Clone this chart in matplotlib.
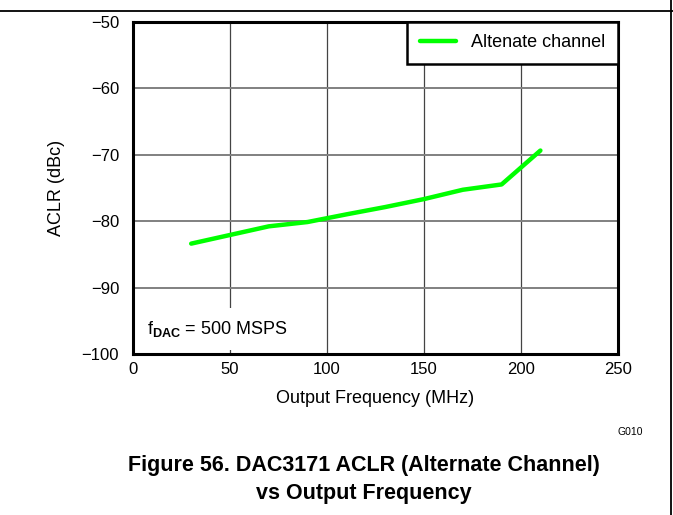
import matplotlib
matplotlib.use('Agg')
import matplotlib.pyplot as plt
from matplotlib.lines import Line2D

plt.rcParams['font.family'] = ['Liberation Sans', 'DejaVu Sans']
plt.rcParams['mathtext.fontset'] = 'custom'
plt.rcParams['mathtext.rm'] = 'Liberation Sans'
plt.rcParams['mathtext.bf'] = 'Liberation Sans:bold'

# Daten
freq = [30, 50, 70, 90, 110, 130, 150, 170, 190, 210]
aclr = [-83.4, -82.1, -80.8, -80.15, -79.0, -77.9, -76.7, -75.3, -74.5, -69.4]
xticks = [0, 50, 100, 150, 200, 250]
yticks = [-100, -90, -80, -70, -60, -50]

fig = plt.figure(figsize=(6.73, 5.15), dpi=100)
ax = fig.add_axes([0.1976, 0.3126, 0.7207, 0.6456])

ax.plot(freq, aclr, color='#00ff00', lw=3.2, solid_capstyle='round',
        label='Altenate channel', zorder=3)

ax.set_xlim(0, 250)
ax.set_ylim(-100, -50)
ax.set_xticks(xticks)
ax.set_yticks(yticks)
ax.tick_params(length=0, labelsize=12)
ax.tick_params(axis='y', pad=10)
ax.tick_params(axis='x', pad=6)
ax.grid(axis='x', color='#444444', lw=0.9)
ax.grid(axis='y', color='#808080', lw=1.4)
for s in ax.spines.values():
    s.set_linewidth(2.2)
    s.set_zorder(5)

ax.set_xlabel('Output Frequency (MHz)', fontsize=13, labelpad=9)
ax.set_ylabel('ACLR (dBc)', fontsize=13, labelpad=12)

leg = ax.legend(loc='upper right', fontsize=13, fancybox=False, framealpha=1,
                borderaxespad=0, handlelength=2.0, handletextpad=0.85,
                borderpad=0.7)
leg.get_frame().set_edgecolor('black')
leg.get_frame().set_linewidth(1.8)

ax.text(7, -96.2, r'f$_{\mathbf{DAC}}$ = 500 MSPS', fontsize=13, va='center',
        bbox=dict(facecolor='white', edgecolor='none', pad=8), zorder=4)

fig.text(630 / 673, 1 - 432 / 515, 'G010', fontsize=7.5, ha='center', va='center')
fig.text(364 / 673, 1 - 466 / 515, 'Figure 56. DAC3171 ACLR (Alternate Channel)',
         fontsize=15.5, fontweight='bold', ha='center', va='center')
fig.text(364 / 673, 1 - 494 / 515, 'vs Output Frequency',
         fontsize=15.5, fontweight='bold', ha='center', va='center')

# Rahmen
fig.add_artist(Line2D([0, 1], [1 - 10.5 / 515] * 2, color='black', lw=1.3))
fig.add_artist(Line2D([671 / 673] * 2, [0, 1], color='black', lw=1.3))

fig.savefig('out.png', dpi=100)
